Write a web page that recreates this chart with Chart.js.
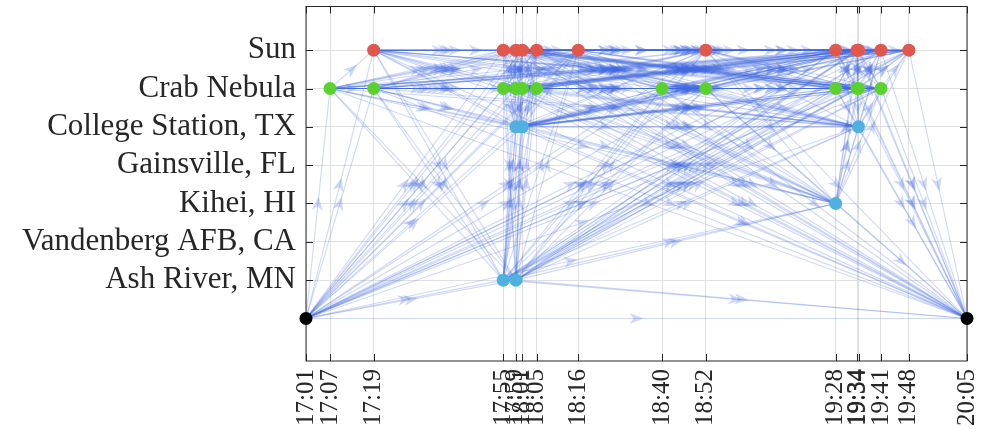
<!DOCTYPE html>
<html>
<head>
<meta charset="utf-8">
<script src="https://cdn.jsdelivr.net/npm/chart.js@4.4.1/dist/chart.umd.min.js"></script>
<style>
  html, body { margin: 0; background: #fff; }
</style>
</head>
<body>
<canvas id="scheduleChart" width="992" height="429"></canvas>
<script>
// rows 1..7 from bottom to top, row 0 holds the start/end nodes
const locations = ['Ash River, MN', 'Vandenberg AFB, CA', 'Kihei, HI', 'Gainsville, FL',
  'College Station, TX', 'Crab Nebula', 'Sun'];
const locationTicks = [1, 2, 3, 4, 5, 6, 7];

const tickTimes = ['17:01:00', '17:07:41', '17:19:50', '17:55:54', '17:59:26', '18:01:14',
  '18:05:12', '18:16:47', '18:40:06', '18:52:17', '19:28:27', '19:34:24', '19:34:48',
  '19:41:03', '19:48:50', '20:05:00'];
const tickLabels = ['17:01', '17:07', '17:19', '17:55', '17:59', '18:01', '18:05', '18:16',
  '18:40', '18:52', '19:28', '19:34', '19:34', '19:41', '19:48', '20:05'];

// graph nodes, ordered by time
const nodeTimes = ['17:01:00', '17:07:41', '17:19:50', '17:19:50', '17:55:54', '17:55:54',
  '17:55:54', '17:59:26', '17:59:26', '17:59:26', '17:59:26', '18:01:14', '18:01:14',
  '18:01:14', '18:05:12', '18:05:12', '18:16:47', '18:40:06', '18:52:17', '18:52:17',
  '19:28:27', '19:28:27', '19:28:27', '19:34:24', '19:34:24', '19:34:48', '19:34:48',
  '19:34:48', '19:41:03', '19:41:03', '19:48:50', '20:05:00'];
const nodePlaces = ['', 'Crab Nebula', 'Sun', 'Crab Nebula', 'Sun', 'Crab Nebula',
  'Ash River, MN', 'Sun', 'Crab Nebula', 'College Station, TX', 'Ash River, MN', 'Sun',
  'Crab Nebula', 'College Station, TX', 'Sun', 'Crab Nebula', 'Sun', 'Crab Nebula', 'Sun',
  'Crab Nebula', 'Sun', 'Crab Nebula', 'Kihei, HI', 'Sun', 'Crab Nebula', 'Sun',
  'Crab Nebula', 'College Station, TX', 'Sun', 'Crab Nebula', 'Sun', ''];

// node i has an edge to every node from edgeFirstTarget[i] up to the last one
const edgeFirstTarget = [1, 2, 4, 4, 7, 7, 7, 11, 11, 11, 11, 14, 14, 14, 16, 16, 17, 18,
  20, 20, 23, 23, 23, 25, 25, 28, 28, 28, 30, 30, 31, 32];

const placeColors = {
  'Sun': '#e2574c',
  'Crab Nebula': '#5bd12e',
  'College Station, TX': '#4fb1e0',
  'Kihei, HI': '#4fb1e0',
  'Ash River, MN': '#4fb1e0',
  '': '#000000'
};
const edgeColor = 'rgba(65, 105, 225, 0.25)';
const axisColor = '#262626';

function toMinutes(t) {
  const [h, m, s] = t.split(':').map(Number);
  return h * 60 + m + s / 60;
}
function rowOf(place) {
  return place === '' ? 0 : locations.indexOf(place) + 1;
}

const nodes = nodeTimes.map((t, i) => ({ x: toMinutes(t), y: rowOf(nodePlaces[i]) }));
const edges = [];
nodes.forEach((n, i) => {
  for (let j = edgeFirstTarget[i]; j < nodes.length; j++) edges.push([i, j]);
});

const datasets = [{
  label: 'nodes',
  data: nodes,
  backgroundColor: nodePlaces.map(p => placeColors[p]),
  pointRadius: 6.5,
  pointHoverRadius: 6.5,
  borderWidth: 0,
  clip: false,
  order: 0
}];
edges.forEach(([a, b]) => {
  datasets.push({
    data: [nodes[a], nodes[b]],
    showLine: true,
    borderColor: edgeColor,
    borderWidth: 1.1,
    pointRadius: 0,
    order: 1
  });
});

const arrowPlugin = {
  id: 'arrows',
  beforeDatasetDraw(chart, args) {
    if (args.index !== 0) return;
    const { ctx, chartArea } = chart;
    const xs = chart.scales.x, ys = chart.scales.y;
    ctx.save();
    ctx.beginPath();
    ctx.rect(chartArea.left, chartArea.top, chartArea.width, chartArea.height);
    ctx.clip();
    ctx.fillStyle = edgeColor;
    edges.forEach(([a, b]) => {
      const x1 = xs.getPixelForValue(nodes[a].x), y1 = ys.getPixelForValue(nodes[a].y);
      const x2 = xs.getPixelForValue(nodes[b].x), y2 = ys.getPixelForValue(nodes[b].y);
      const ang = Math.atan2(y2 - y1, x2 - x1);
      ctx.save();
      ctx.translate((x1 + x2) / 2, (y1 + y2) / 2);
      ctx.rotate(ang);
      ctx.beginPath();
      ctx.moveTo(7, 0);
      ctx.lineTo(-7, -5.5);
      ctx.lineTo(-3, 0);
      ctx.lineTo(-7, 5.5);
      ctx.closePath();
      ctx.fill();
      ctx.restore();
    });
    ctx.restore();
  }
};

const boxPlugin = {
  id: 'box',
  beforeDatasetsDraw(chart) {
    const { ctx, chartArea: ca } = chart;
    const xs = chart.scales.x, ys = chart.scales.y;
    ctx.save();
    ctx.strokeStyle = axisColor;
    ctx.lineWidth = 1;
    ctx.beginPath();
    xs.ticks.forEach(t => {
      const px = Math.round(xs.getPixelForValue(t.value)) + 0.5;
      ctx.moveTo(px, ca.bottom); ctx.lineTo(px, ca.bottom - 7);
      ctx.moveTo(px, ca.top); ctx.lineTo(px, ca.top + 7);
    });
    ys.ticks.forEach(t => {
      const py = Math.round(ys.getPixelForValue(t.value)) + 0.5;
      ctx.moveTo(ca.left, py); ctx.lineTo(ca.left + 7, py);
      ctx.moveTo(ca.right, py); ctx.lineTo(ca.right - 7, py);
    });
    ctx.stroke();
    ctx.strokeRect(ca.left, ca.top, ca.width, ca.height);
    ctx.restore();
  }
};

function noPadding(s) {
  s.paddingTop = 0; s.paddingBottom = 0; s.paddingLeft = 0; s.paddingRight = 0;
}

new Chart(document.getElementById('scheduleChart'), {
  type: 'scatter',
  data: { datasets },
  options: {
    responsive: false,
    animation: false,
    events: [],
    layout: { padding: { top: 6, right: 25, bottom: 0, left: 0 } },
    plugins: { legend: { display: false }, tooltip: { enabled: false } },
    scales: {
      x: {
        type: 'linear',
        min: toMinutes('17:01:00'),
        max: toMinutes('20:05:00'),
        afterBuildTicks: s => { s.ticks = tickTimes.map(t => ({ value: toMinutes(t) })); },
        afterFit: s => { s.height = 68; noPadding(s); },
        ticks: {
          autoSkip: false,
          minRotation: 90,
          maxRotation: 90,
          padding: 8,
          color: axisColor,
          font: { family: 'Liberation Serif', size: 25 },
          callback: (v, i) => tickLabels[i]
        },
        grid: { color: '#e0e0e0', drawTicks: false },
        border: { display: false }
      },
      y: {
        type: 'linear',
        min: -1.11,
        max: 8.14,
        afterBuildTicks: s => { s.ticks = locationTicks.map(v => ({ value: v })); },
        afterFit: s => { s.width = 306; noPadding(s); },
        ticks: {
          autoSkip: false,
          padding: 10,
          color: axisColor,
          font: { family: 'Liberation Serif', size: 31 },
          callback: (v, i) => locations[i]
        },
        grid: { color: '#e0e0e0', drawTicks: false },
        border: { display: false }
      }
    }
  },
  plugins: [boxPlugin, arrowPlugin]
});
</script>
</body>
</html>
